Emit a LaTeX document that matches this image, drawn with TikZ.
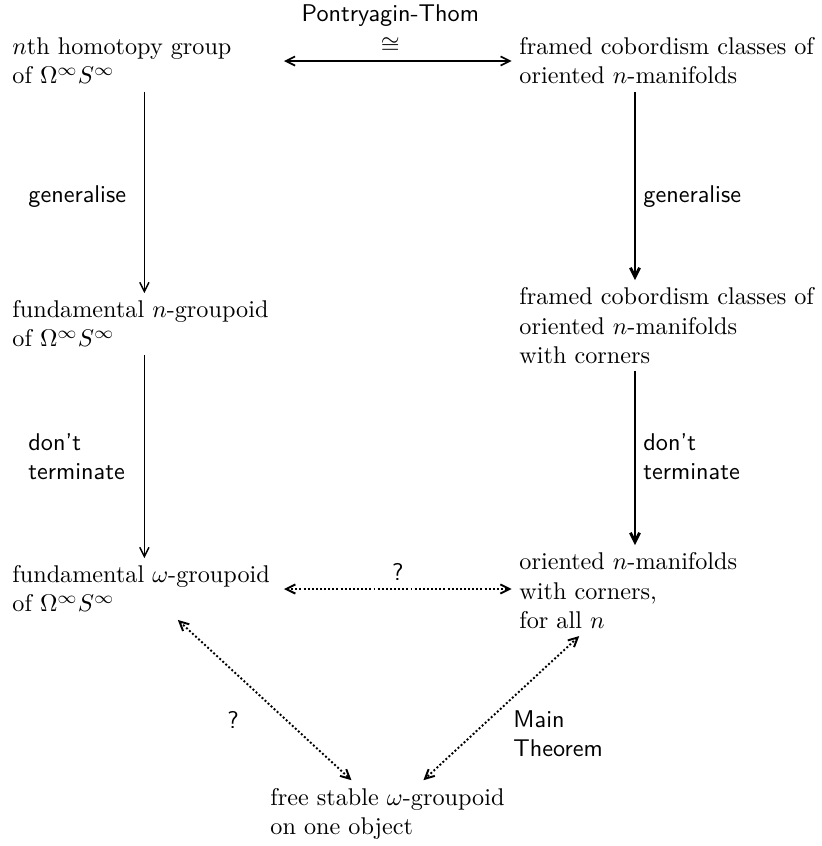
\documentclass[tikz,border=0pt]{standalone}
\usetikzlibrary{arrows.meta}
\begin{document}
\begin{tikzpicture}[x=0.4132pt,y=-0.4132pt,
  txt/.style={inner sep=3pt, align=left, anchor=west},
  lcol/.style={txt, text width=109pt},
  lab/.style={font=\sffamily, inner sep=3pt, align=left},
  tipend/.style={-{Straight Barb[length=3.8pt,width=3.8pt]}},
  tipboth/.style={{Straight Barb[length=3.8pt,width=3.8pt]}-{Straight Barb[length=3.8pt,width=3.8pt]}},
  thinarr/.style={tipend, line width=0.6pt},
  thickarr/.style={tipend, line width=1.2pt},
  dots/.style={line width=0.8pt, dash pattern=on 0.8pt off 0.9pt}
]
\useasboundingbox (0,0) rectangle (822,846);

\node[lcol] (l1) at (4.7,61) {$n$th homotopy group\\ of $\Omega^\infty S^\infty$};
\node[txt] (r1) at (511.7,61) {framed cobordism classes of\\ oriented $n$-manifolds};
\node[lcol] (l2) at (4.7,324) {fundamental $n$-groupoid\\ of $\Omega^\infty S^\infty$};
\node[txt] (r2) at (511.7,325.6) {framed cobordism classes of\\ oriented $n$-manifolds\\ with corners};
\node[lcol] (l3) at (4.7,589) {fundamental $\omega$-groupoid\\ of $\Omega^\infty S^\infty$};
\node[txt] (r3) at (511.7,590.6) {oriented $n$-manifolds\\ with corners,\\ for all $n$};
\node[txt] (b) at (262.7,813.5) {free stable $\omega$-groupoid\\ on one object};

\coordinate (cR) at (635,0);

% top horizontal
\draw[tipboth, line width=0.7pt] (l1) -- node[lab, above, align=center, xshift=-3.1pt, inner sep=2.6pt] {Pontryagin-Thom\\[1pt] $\cong$} (r1);

% left verticals
\draw[thinarr] (l1) -- (l2);
\draw[thinarr] (l2) -- (l3);
% right verticals
\draw[thickarr] (r1.south -| cR) -- (r2.north -| cR);
\draw[thickarr] (r2.south -| cR) -- (r3.north -| cR);

% vertical labels
\node[lab, anchor=west] (g1) at (20.7,197) {generalise};
\node[lab, anchor=west] (g2) at (635.7,197) {generalise};
\node[lab, anchor=west] (d1) at (20.7,457) {don't\\ terminate};
\node[lab, anchor=west] (d2) at (635.7,457) {don't\\ terminate};

% bottom dotted
\draw[tipboth, dots] (l3) -- node[lab, above] {?} (l3 -| r3.west);
\draw[tipboth, dots] (l3) -- (b);
\draw[tipboth, dots] (r3) -- (b);

\node[lab] (q2) at (233,720) {?};
\node[lab, anchor=west] (mt) at (505.7,734) {Main\\ Theorem};
\end{tikzpicture}
\end{document}
